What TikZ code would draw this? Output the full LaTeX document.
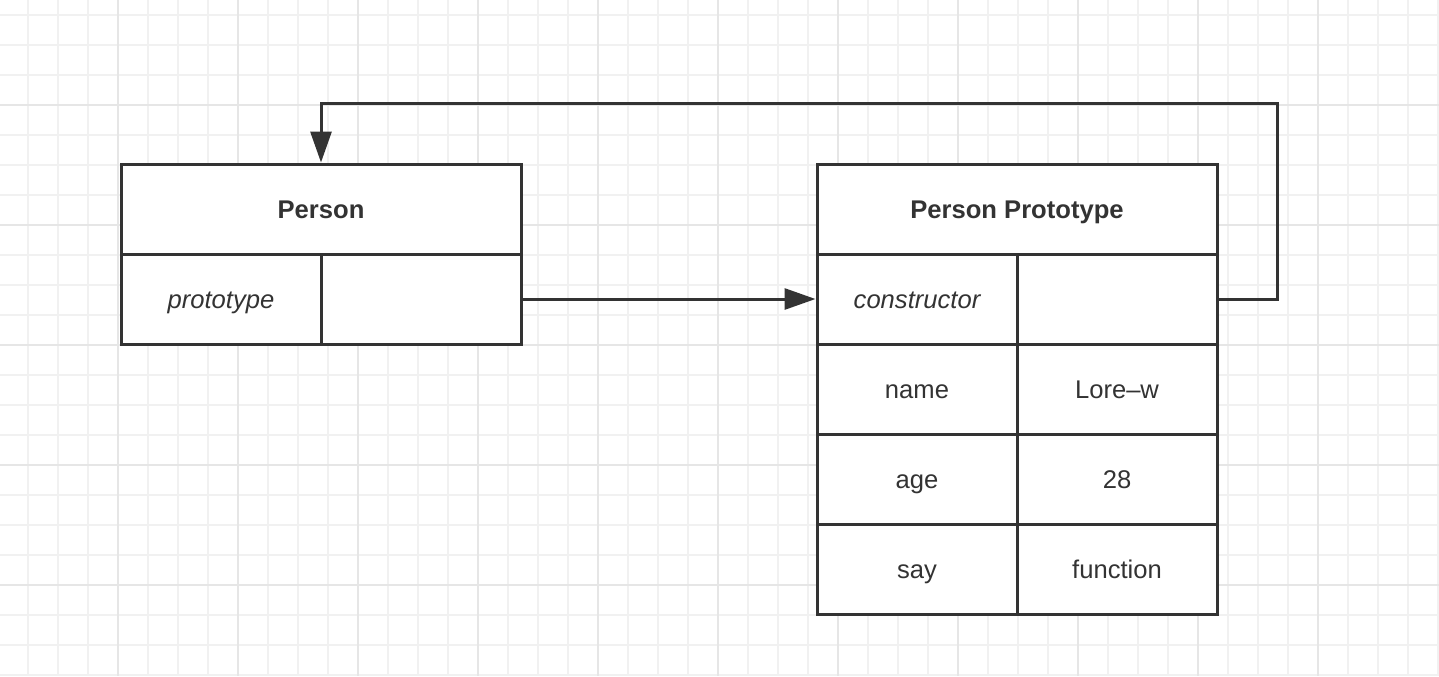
\documentclass[tikz,border=0pt]{standalone}
\usepackage{fontspec}
\setmainfont{Liberation Sans}
\usetikzlibrary{arrows.meta}
\definecolor{ink}{HTML}{333333}
\definecolor{gridminor}{HTML}{F1F1F1}
\definecolor{gridmajor}{HTML}{E6E6E6}
\tikzset{
  cell/.style={draw=ink, line width=1.5pt, fill=white, text=ink, minimum width=100pt,
    minimum height=45pt, inner sep=0pt, text height=9.2pt, text depth=0pt,
    font=\fontsize{12.8}{15}\selectfont},
  headcell/.style={cell, minimum width=200pt, font=\fontsize{12.8}{15}\selectfont\bfseries},
  keycell/.style={cell, font=\fontsize{12.8}{15}\selectfont\itshape},
  conn/.style={draw=ink, line width=1.5pt, -{Triangle[length=15.5pt,width=10.5pt]}},
}
\begin{document}
\begin{tikzpicture}[x=0.5pt,y=-0.5pt]
  \useasboundingbox (0,0) rectangle (1439,676);
  \fill[white] (0,0) rectangle (1439,676);
  % background grid
  \foreach \gx in {28,58,...,1438} \draw[gridminor, line width=1pt] (\gx,0) -- (\gx,676);
  \foreach \gy in {15,45,...,675} \draw[gridminor, line width=1pt] (0,\gy) -- (1439,\gy);
  \foreach \gx in {118,238,...,1318} \draw[gridmajor, line width=1pt] (\gx,0) -- (\gx,676);
  \foreach \gy in {105,225,...,585} \draw[gridmajor, line width=1pt] (0,\gy) -- (1439,\gy);

  % Person
  \node[headcell] (ph) at (321,209) {Person};
  \node[keycell] (pk) at (221,299) {prototype};
  \node[cell] (pv) at (421,299) {};

  % Person Prototype
  \node[headcell] (qh) at (1017,209) {Person Prototype};
  \node[keycell] (ck) at (917,299) {constructor};
  \node[cell] (cv) at (1117,299) {};
  \node[cell] (nk) at (917,389) {name};
  \node[cell] (nv) at (1117,389) {Lore–w};
  \node[cell] (ak) at (917,479) {age};
  \node[cell] (av) at (1117,479) {28};
  \node[cell] (sk) at (917,569) {say};
  \node[cell] (sv) at (1117,569) {function};

  % connectors
  \coordinate (loop) at (1277,103);
  \draw[conn] (pv.east) -- (ck.west);
  \draw[conn] (cv.east) -| (loop) -| (ph.north);
\end{tikzpicture}
\end{document}
